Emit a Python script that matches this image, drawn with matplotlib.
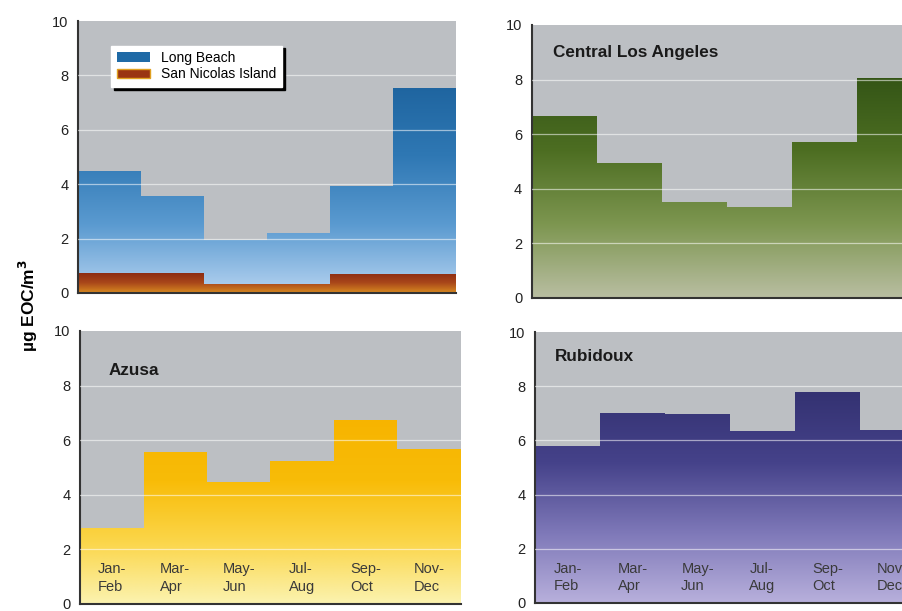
import numpy as np
import matplotlib
matplotlib.use('Agg')
import matplotlib.pyplot as plt
from matplotlib.colors import LinearSegmentedColormap
from matplotlib.patches import Patch

plt.rcParams['font.family'] = ['Liberation Sans Narrow', 'Liberation Sans', 'DejaVu Sans']

periods = ['Jan-\nFeb', 'Mar-\nApr', 'May-\nJun', 'Jul-\nAug', 'Sep-\nOct', 'Nov-\nDec']

long_beach = [4.5, 3.55, 1.95, 2.2, 3.95, 7.55]
san_nicolas = [0.75, 0.75, 0.33, 0.33, 0.7, 0.7]
central_la = [6.67, 4.95, 3.52, 3.35, 5.72, 8.07]
azusa = [2.8, 5.55, 4.48, 5.25, 6.75, 5.67]
rubidoux = [5.78, 7.02, 6.97, 6.35, 7.78, 6.38]

BG = '#bcbfc3'


def gradient_steps(ax, vals, colors, zorder=1):
    # step bars filled with a vertical colour gradient
    x = np.arange(len(vals) + 1)
    y = np.append(vals, vals[-1])
    poly = ax.fill_between(x, 0, y, step='post', facecolor='none',
                           edgecolor='none', zorder=zorder)
    grad = np.linspace(0, 1, 256).reshape(-1, 1)
    cmap = LinearSegmentedColormap.from_list('g', colors)
    im = ax.imshow(grad, extent=[0, len(vals), 0, max(vals)], origin='lower',
                   aspect='auto', cmap=cmap, zorder=zorder, interpolation='bilinear')
    im.set_clip_path(poly.get_paths()[0], transform=ax.transData)


def setup(ax, n=6):
    ax.set_facecolor(BG)
    ax.set_xlim(0, n)
    ax.set_ylim(0, 10)
    ax.set_yticks([0, 2, 4, 6, 8, 10])
    ax.set_xticks([])
    ax.tick_params(axis='y', length=0, pad=7, labelsize=10.5, labelcolor='#222222')
    for s in ['top', 'right']:
        ax.spines[s].set_visible(False)
    for s in ['left', 'bottom']:
        ax.spines[s].set_color('#333333')
        ax.spines[s].set_linewidth(1.5)
    for v in [2, 4, 6, 8]:
        ax.axhline(v, color='white', lw=0.9, alpha=0.55, zorder=3)


fig = plt.figure(figsize=(9.03, 6.11), dpi=100)

ax1 = fig.add_axes([0.0864, 0.5205, 0.4186, 0.4451])
ax2 = fig.add_axes([0.5891, 0.5123, 0.432, 0.4468])
ax3 = fig.add_axes([0.0886, 0.0115, 0.4219, 0.4468])
ax4 = fig.add_axes([0.5925, 0.0131, 0.432, 0.4435])

for ax in [ax1, ax2, ax3, ax4]:
    setup(ax)

gradient_steps(ax1, long_beach, ['#b4d2f0', '#5a9ad0', '#2f78b4', '#1f65a0'])
gradient_steps(ax1, san_nicolas, ['#d88a20', '#a8461a', '#8a2a12'], zorder=2)
gradient_steps(ax2, central_la, ['#b9bea2', '#7d9650', '#4d6e22', '#345516'])
gradient_steps(ax3, azusa, ['#fbf3b0', '#fbd64a', '#f8bc08', '#f7b400'])
gradient_steps(ax4, rubidoux, ['#b8b0dc', '#7e78b8', '#45428a', '#343272'])

leg = ax1.legend(handles=[Patch(facecolor='#1f6aa6', edgecolor='none', label='Long Beach'),
                          Patch(facecolor='#9a3412', edgecolor='#e0a020', label='San Nicolas Island')],
                 loc='upper left', bbox_to_anchor=(0.07, 0.935), fontsize=10,
                 frameon=True, fancybox=False, framealpha=1, edgecolor='white',
                 shadow={'color': 'black', 'alpha': 1}, handlelength=2.4, handleheight=0.7,
                 borderpad=0.4, labelspacing=0.15, handletextpad=0.8)
leg.set_zorder(5)

title_kw = dict(fontsize=12.3, fontweight='bold', color='#1a1a1a', va='center', ha='left', zorder=5)
ax2.text(0.054, 0.90, 'Central Los Angeles', transform=ax2.transAxes, **title_kw)
ax3.text(0.076, 0.857, 'Azusa', transform=ax3.transAxes, **title_kw)
ax4.text(0.05, 0.91, 'Rubidoux', transform=ax4.transAxes, **title_kw)

for ax in [ax3, ax4]:
    for i, p in enumerate(periods):
        ax.text(i + 0.5, 0.95, p, ha='center', va='center', multialignment='left',
                fontsize=10.5, color='#3a3a3a', linespacing=1.3, zorder=5)

fig.text(0.031, 0.5, 'µg EOC/m$^\\mathbf{3}$', rotation=90, ha='center', va='center',
         fontsize=12.5, fontweight='bold', family=['Liberation Sans', 'DejaVu Sans'])

fig.savefig('out.png', dpi=100, facecolor='white')
